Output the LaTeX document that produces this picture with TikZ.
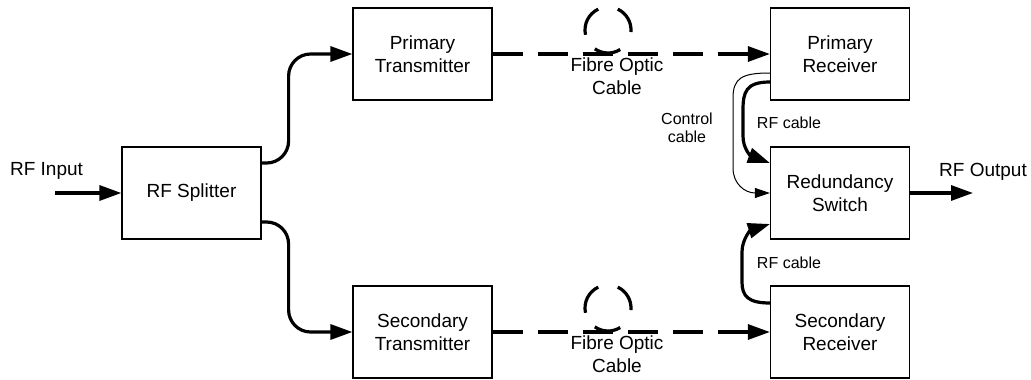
\documentclass[tikz,border=0pt]{standalone}
\usepackage{fontspec}
\setmainfont{Liberation Sans}
\usetikzlibrary{arrows.meta}

\begin{document}
\begin{tikzpicture}[x=1pt,y=-1pt,
    unitbox/.style={draw=black, line width=1.2pt, minimum width=139pt,
      minimum height=92pt, inner sep=0pt, align=center,
      font=\fontsize{19}{23}\selectfont},
    biglabel/.style={inner sep=0pt, align=center,
      font=\fontsize{19}{23}\selectfont},
    smalllabel/.style={inner sep=0pt, align=center,
      font=\fontsize{16}{18.5}\selectfont},
    rfline/.style={black, line width=3.2pt,
      -{Triangle[length=22pt,width=15pt]}},
    fibreline/.style={black, line width=3.2pt, dash pattern=on 30pt off 15pt,
      -{Triangle[length=22pt,width=15pt]}},
    ctrlline/.style={black, line width=1pt,
      -{Triangle[length=15pt,width=10pt]}}]
    \path[use as bounding box] (0,0) rectangle (1031,380);

    % Six units of the link, centres in picture pixels.
    \foreach \unitname/\unitx/\unity/\unittext in {split/191.5/193/{RF Splitter},
      ptx/422.5/54/{Primary\\Transmitter},stx/422.5/332/{Secondary\\Transmitter},
      prx/840/54/{Primary\\Receiver},rsw/840/193/{Redundancy\\Switch},
      srx/840/332/{Secondary\\Receiver}} {
      \node[unitbox] (\unitname) at (\unitx,\unity) {\unittext};
    }

    % Free ends of input and output.
    \coordinate (rfin) at (55,193);
    \coordinate (rfout) at (973,193);

    \draw[rfline] (rfin) -- (split.west);
    \draw[rfline] (rsw.east) -- (rfout);
    \node[biglabel, anchor=base] (inlabel) at (46.5,175) {RF Input};
    \node[biglabel, anchor=base] (outlabel) at (983,176) {RF Output};

    % Splitter feeds both transmitters.
    \draw[rfline, rounded corners=22pt]
      ([yshift=30pt]split.east) -- ++(27,0) |- (ptx.west);
    \draw[rfline, rounded corners=22pt]
      ([yshift=-29pt]split.east) -- ++(27,0) |- (stx.west);

    % Fibre runs with a coil of spare cable.
    \draw[fibreline] (ptx.east) -- (prx.west);
    \draw[fibreline] (stx.east) -- (srx.west);
    \foreach \liney in {54,332} {
      \foreach \arcfrom/\arcto in {-5/65,115/192,235/302} {
        \draw[black, line width=3.2pt]
          (608,{\liney-24}) ++(\arcfrom:23pt)
          arc[start angle=\arcfrom, end angle=\arcto, radius=23pt];
      }
    }
    \node[biglabel] (fibretop) at (617,76) {Fibre Optic\\Cable};
    \node[biglabel] (fibrebot) at (617,354) {Fibre Optic\\Cable};

    % Receivers into the redundancy switch.
    \draw[rfline] ([yshift=-28pt]prx.west)
      .. controls (746,82) and (743,92) .. (743,110) -- (743,136)
      .. controls (743,149) and (751,156) .. ([yshift=30pt]rsw.west);
    \draw[ctrlline] ([yshift=-19pt]prx.west)
      .. controls (742,73) and (733,78) .. (733,98) -- (733,168)
      .. controls (733,184) and (745,193) .. (rsw.west);
    \draw[rfline] ([yshift=29pt]srx.west)
      .. controls (748,303) and (742,296) .. (742,282) -- (742,252)
      .. controls (742,239) and (751,230) .. ([yshift=-31pt]rsw.west);

    \node[smalllabel] (ctrllabel) at (687,128) {Control\\cable};
    \node[smalllabel, anchor=base] (rftop) at (789,128) {RF cable};
    \node[smalllabel, anchor=base] (rfbot) at (789,268) {RF cable};
\end{tikzpicture}
\end{document}
